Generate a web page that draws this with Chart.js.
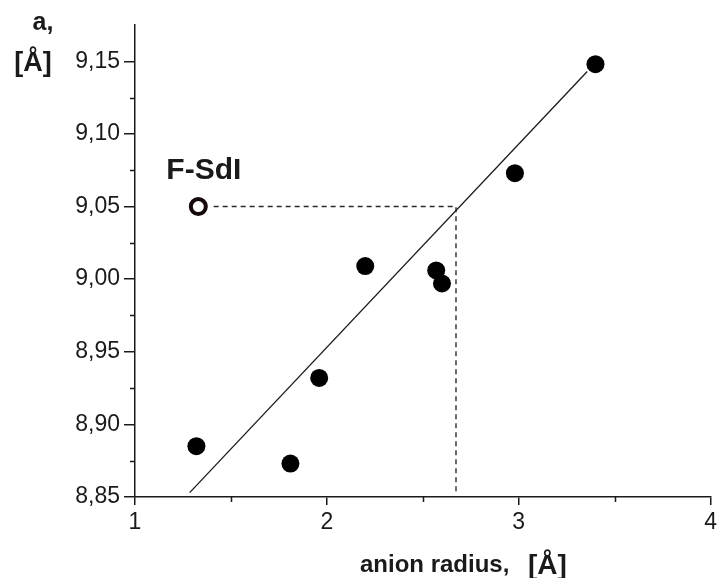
<!DOCTYPE html>
<html>
<head>
<meta charset="utf-8">
<script src="https://cdn.jsdelivr.net/npm/chart.js@4/dist/chart.umd.min.js"></script>
<style>
  html, body { margin: 0; padding: 0; background: #fff; }
  #wrap { width: 721px; height: 578px; }
</style>
</head>
<body>
<div id="wrap"><canvas id="latticeChart" width="721" height="578"></canvas></div>
<script>
// data
const radiusX = [1.32, 1.81, 1.96, 2.20, 2.57, 2.60, 2.98, 3.40];
const latticeA = [8.885, 8.873, 8.932, 9.009, 9.006, 8.997, 9.073, 9.148];
const fsdiX = [1.33];
const fsdiA = [9.05];
const fitX = [1.285, 3.357];
const fitA = [8.853, 9.143];
const guideX = [1.41, 2.673, 2.673];
const guideA = [9.05, 9.05, 8.853];
const xMajor = [1, 2, 3, 4];
const xMinor = [1.5, 2.5, 3.5];
const yMajor = [8.85, 8.90, 8.95, 9.00, 9.05, 9.10, 9.15];
const yMinor = [8.875, 8.925, 8.975, 9.025, 9.075, 9.125];

const FONT = "'Liberation Sans', Arial, sans-serif";
const INK = '#1a1a1a';

const toPts = (xs, ys) => xs.map((x, i) => ({ x: x, y: ys[i] }));

// short minor ticks + the free text labels
const extras = {
    id: 'extras',
    afterDraw(chart) {
        const c = chart.ctx;
        const xs = chart.scales.x, ys = chart.scales.y;
        c.save();
        c.strokeStyle = INK;
        c.lineWidth = 1.5;
        c.beginPath();
        xMinor.forEach(v => {
            const px = Math.round(xs.getPixelForValue(v)) + 0.5;
            c.moveTo(px, xs.top);
            c.lineTo(px, xs.top + 5);
        });
        yMinor.forEach(v => {
            const py = Math.round(ys.getPixelForValue(v)) + 0.5;
            c.moveTo(ys.right, py);
            c.lineTo(ys.right - 5, py);
        });
        c.stroke();

        c.fillStyle = INK;
        c.textBaseline = 'alphabetic';
        c.textAlign = 'center';
        c.font = 'bold 25px ' + FONT;
        c.fillText('a,', 43, 30);
        c.font = 'bold 27px ' + FONT;
        c.fillText('[Å]', 33, 71);

        // label of the open point
        const ax = xs.getPixelForValue(fsdiX[0]);
        const ay = ys.getPixelForValue(fsdiA[0]);
        c.textAlign = 'left';
        c.font = 'bold 30px ' + FONT;
        c.fillText('F-SdI', ax - 32, ay - 28);

        c.font = 'bold 24px ' + FONT;
        c.fillText('anion radius,', 360, 572);
        c.font = 'bold 28px ' + FONT;
        c.fillText('[Å]', 528, 574);
        c.restore();
    }
};

const ctx = document.getElementById('latticeChart').getContext('2d');
const latticeChart = new Chart(ctx, {
    type: 'scatter',
    data: {
        datasets: [
            {
                label: 'fit',
                type: 'line',
                data: toPts(fitX, fitA),
                borderColor: INK,
                borderWidth: 1.3,
                pointRadius: 0,
                fill: false,
                order: 3
            },
            {
                label: 'guide',
                type: 'line',
                data: toPts(guideX, guideA),
                borderColor: '#2a2a2a',
                borderWidth: 1.4,
                borderDash: [5, 4],
                pointRadius: 0,
                fill: false,
                order: 3
            },
            {
                label: 'samples',
                data: toPts(radiusX, latticeA),
                backgroundColor: '#000',
                borderWidth: 0,
                pointRadius: 9,
                order: 1
            },
            {
                label: 'F-SdI',
                data: toPts(fsdiX, fsdiA),
                backgroundColor: '#fff',
                borderColor: '#150808',
                borderWidth: 4,
                pointRadius: 7.5,
                order: 1
            }
        ]
    },
    options: {
        responsive: false,
        animation: false,
        layout: { autoPadding: false, padding: { top: 25, right: 3, bottom: 0, left: 0 } },
        plugins: { legend: { display: false }, tooltip: { enabled: false } },
        scales: {
            x: {
                type: 'linear',
                min: 1,
                max: 4,
                afterFit: s => { s.height = 81; },
                afterBuildTicks: s => { s.ticks = xMajor.map(v => ({ value: v })); },
                grid: { drawOnChartArea: false, drawTicks: true, tickLength: 8, color: INK, lineWidth: 1.5 },
                border: { display: true, color: INK, width: 1.5 },
                ticks: {
                    color: INK,
                    padding: 4,
                    font: { family: FONT, size: 23 },
                    callback: v => String(v)
                }
            },
            y: {
                type: 'linear',
                min: 8.85,
                max: 9.175,
                afterFit: s => { s.width = 135; },
                afterBuildTicks: s => { s.ticks = yMajor.map(v => ({ value: v })); },
                grid: { drawOnChartArea: false, drawTicks: true, tickLength: 11, color: INK, lineWidth: 1.5 },
                border: { display: true, color: INK, width: 1.5 },
                ticks: {
                    color: INK,
                    padding: 4,
                    font: { family: FONT, size: 23 },
                    callback: v => v.toFixed(2).replace('.', ',')
                }
            }
        }
    },
    plugins: [extras]
});
</script>
</body>
</html>
